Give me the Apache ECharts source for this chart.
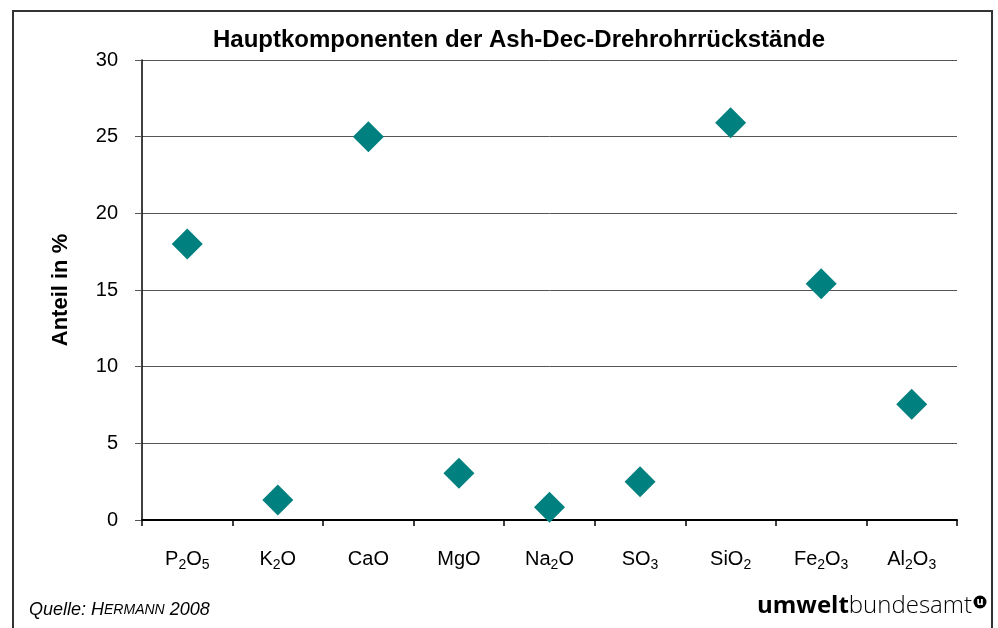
<!DOCTYPE html>
<html>
<head>
<meta charset="utf-8">
<script src="https://cdn.jsdelivr.net/npm/echarts@6/dist/echarts.min.js"></script>
<style>
html,body{margin:0;padding:0;background:#fff;}
#main{width:998px;height:628px;}
</style>
</head>
<body>
<div id="main"></div>
<script>
var categories = ['P2O5', 'K2O', 'CaO', 'MgO', 'Na2O', 'SO3', 'SiO2', 'Fe2O3', 'Al2O3'];
var anteil = [18.0, 1.3, 25.0, 3.05, 0.83, 2.5, 25.9, 15.4, 7.55];
var yTicks = [0, 5, 10, 15, 20, 25, 30];

// Ziffern als Index setzen
function formel(name){
	var out = '';
	for(var i = 0 ; i < name.length ; i++ ){
		var c = name.charAt(i);
		if( c >= '0' && c <= '9' ){
			out += '{s|' + c + '}';
		}else{
			out += '{n|' + c + '}';
		}
	}
	return out;
}

var myChart = echarts.init(document.getElementById('main'));
var option = {
	backgroundColor: '#fff',
	animation: false,
	title: {
		text: 'Hauptkomponenten der Ash-Dec-Drehrohrrückstände',
		left: 514,
		top: 23,
		textAlign: 'center',
		textStyle: {
			fontFamily: 'Liberation Sans, Arial',
			fontSize: 24,
			fontWeight: 'bold',
			color: '#000'
		}
	},
	grid: {
		left: 142,
		right: 41,
		top: 60,
		bottom: 108
	},
	xAxis: {
		type: 'category',
		data: categories,
		boundaryGap: true,
		axisLine: {lineStyle: {color: '#000', width: 2}},
		axisTick: {show: true, interval: 0, length: 6, lineStyle: {color: '#000', width: 1.5}},
		axisLabel: {
			interval: 0,
			margin: 25,
			formatter: function(v){ return formel(v); },
			rich: {
				n: {fontFamily: 'Liberation Sans, Arial', fontSize: 20, color: '#000', lineHeight: 24, verticalAlign: 'bottom'},
				s: {fontFamily: 'Liberation Sans, Arial', fontSize: 14, color: '#000', lineHeight: 24, verticalAlign: 'bottom', padding: [0, 0, -3, 0]}
			}
		},
		splitLine: {show: false}
	},
	yAxis: {
		type: 'value',
		min: yTicks[0],
		max: yTicks[yTicks.length - 1],
		interval: 5,
		name: 'Anteil in %',
		nameLocation: 'middle',
		nameGap: 70,
		nameTextStyle: {
			fontFamily: 'Liberation Sans, Arial',
			fontSize: 22,
			fontWeight: 'bold',
			color: '#000'
		},
		axisLine: {show: true, lineStyle: {color: '#000', width: 1.5}},
		axisTick: {show: true, inside: false, length: 7, lineStyle: {color: '#555'}},
		axisLabel: {
			margin: 24,
			fontFamily: 'Liberation Sans, Arial',
			fontSize: 20,
			color: '#000'
		},
		splitLine: {lineStyle: {color: '#555', width: 1}}
	},
	series: [{
		type: 'scatter',
		data: anteil,
		symbol: 'diamond',
		symbolSize: 31,
		itemStyle: {color: '#00807f', opacity: 1}
	}],
	graphic: [
		{
			type: 'rect',
			shape: {x: 13, y: 11, width: 979, height: 640},
			style: {fill: 'none', stroke: '#333', lineWidth: 2},
			silent: true
		},
		{
			type: 'text',
			left: 29,
			top: 601,
			style: {
				text: '{a|Quelle: H}{b|ERMANN}{a| 2008}',
				rich: {
					a: {fontFamily: 'Liberation Sans, Arial', fontStyle: 'italic', fontSize: 18, color: '#000'},
					b: {fontFamily: 'Liberation Sans, Arial', fontStyle: 'italic', fontSize: 14, color: '#000'}
				}
			}
		},
		{
			type: 'text',
			left: 757,
			top: 594,
			style: {
				text: '{a|umwelt}{b|bundesamt}',
				rich: {
					a: {fontFamily: 'Open Sans, DejaVu Sans', fontWeight: 'bold', fontSize: 24, color: '#000'},
					b: {fontFamily: 'Open Sans, DejaVu Sans', fontWeight: 300, fontSize: 24, color: '#000'}
				}
			}
		},
		{
			type: 'circle',
			shape: {cx: 980, cy: 602, r: 6.5},
			style: {fill: '#000'}
		},
		{
			type: 'text',
			x: 980,
			y: 602,
			style: {
				text: 'u',
				align: 'center',
				verticalAlign: 'middle',
				fontFamily: 'DejaVu Sans',
				fontWeight: 'bold',
				fontSize: 10,
				fill: '#fff'
			}
		}
	]
};
myChart.setOption(option);
</script>
</body>
</html>
